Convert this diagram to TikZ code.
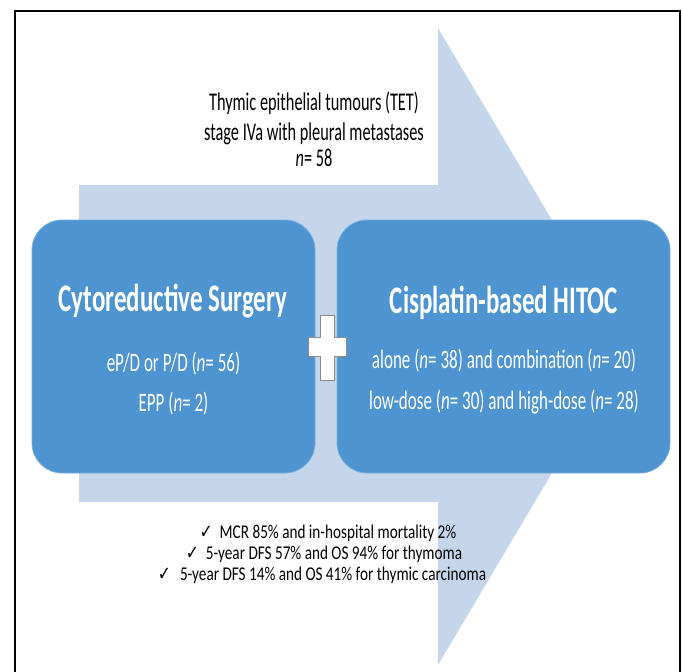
\documentclass[tikz,border=0pt]{standalone}
\usepackage{fontspec}
\setmainfont{Carlito}[FakeStretch=0.64]
\newfontfamily\botfont{Carlito}[FakeStretch=0.78]
\newfontfamily\chkfont{DejaVu Sans}[FakeStretch=0.8]
\definecolor{arrowblue}{RGB}{198,214,234}
\definecolor{boxblue}{RGB}{77,148,208}
\definecolor{boxedge}{RGB}{120,175,222}
\tikzset{
  bluebox/.style={draw=boxedge, line width=0.8pt, fill=boxblue, rounded corners=30pt, inner sep=0pt},
  boxtitle/.style={text=white, inner sep=0pt, font=\fontsize{39}{44}\selectfont\bfseries},
  boxline/.style={text=white, inner sep=0pt, font=\fontsize{26.6}{30}\selectfont},
  topline/.style={text=black, inner sep=0pt, font=\fontsize{25.5}{28}\selectfont},
  botline/.style={text=black, inner sep=0pt, font=\botfont\fontsize{19.5}{21}\selectfont},
}
\begin{document}
\begin{tikzpicture}[x=1pt,y=-1pt]
\useasboundingbox (0,0) rectangle (683,672);
\fill[white] (0,0) rectangle (683,672);
% big arrow
\fill[arrowblue] (79,185) -- (438,185) -- (438,28) -- (627,346.5) -- (438,665) -- (438,502) -- (79,502) -- cycle;
% frame
\draw[line width=2pt] (14.5,672) -- (14.5,11) -- (680,11) -- (680,672);
% top text
\node[topline, anchor=base] (t1) at (314,110) {Thymic epithelial tumours (TET)};
\node[topline, anchor=base] (t2) at (314,140) {stage IVa with pleural metastases};
\node[topline, anchor=base] (t3) at (314,166) {\textit{n}= 58};
% boxes
\node[bluebox, minimum width=283pt, minimum height=253pt] (left) at (173.5,346.5) {};
\node[bluebox, minimum width=333pt, minimum height=253pt] (right) at (503.5,346.5) {};
\node[boxtitle, anchor=base] (lt) at (173,311) {Cytoreductive Surgery};
\node[boxline, anchor=base] (l1) at (173.5,371) {eP/D or P/D (\textit{n}= 56)};
\node[boxline, anchor=base] (l2) at (173.5,411) {EPP (\textit{n}= 2)};
\node[boxtitle, anchor=base] (rt) at (504,313) {Cisplatin-based HITOC};
\node[boxline, anchor=base] (r1) at (504,368) {alone (\textit{n}= 38) and combination (\textit{n}= 20)};
\node[boxline, anchor=base] (r2) at (504,409) {low-dose (\textit{n}= 30) and high-dose (\textit{n}= 28)};
% plus sign
\draw[draw=black!45, fill=white, line width=0.8pt] (308,337) -- (320,337) -- (320,315) -- (334,315) -- (334,337) -- (346,337) -- (346,356) -- (334,356) -- (334,380) -- (320,380) -- (320,356) -- (308,356) -- cycle;
% bottom text
\node[botline, anchor=base] (b1) at (328,538) {{\chkfont ✓}\hspace{7pt}MCR 85\% and in-hospital mortality 2\%};
\node[botline, anchor=base] (b2) at (324,559) {{\chkfont ✓}\hspace{7pt}5-year DFS 57\% and OS 94\% for thymoma};
\node[botline, anchor=base] (b3) at (322,580) {{\chkfont ✓}\hspace{9pt}5-year DFS 14\% and OS 41\% for thymic carcinoma};
\end{tikzpicture}
\end{document}
